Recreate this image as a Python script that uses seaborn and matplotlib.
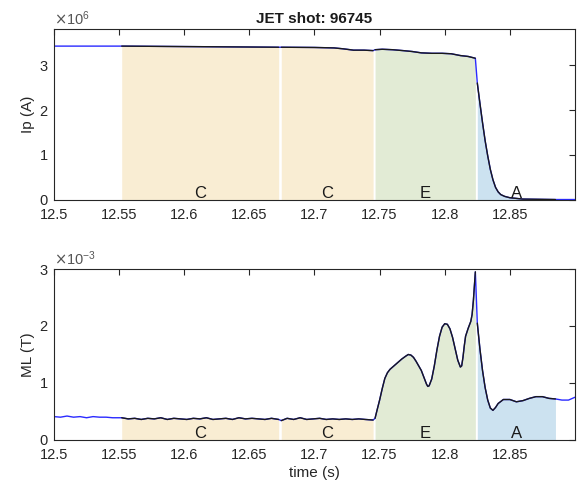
import numpy as np
import matplotlib
matplotlib.use("Agg")
import matplotlib.pyplot as plt
import seaborn as sns
from matplotlib.ticker import ScalarFormatter, FuncFormatter, FixedLocator

sns.set_theme(style="white")
plt.rcParams['font.family'] = ['Liberation Sans', 'DejaVu Sans']

# ---------------- data ----------------
title = "JET shot: 96745"

region_labels = ["C", "C", "E", "A"]
region_start = [12.552, 12.6745, 12.7465, 12.825]
region_end = [12.6725, 12.745, 12.8235, 12.885]
region_colors = {"C": "#f9edd3", "E": "#e2ebd5", "A": "#cce2f0"}

ip_t = [12.500, 12.550, 12.552, 12.600, 12.650, 12.6725, 12.6745, 12.700, 12.715,
        12.722, 12.730, 12.738, 12.745, 12.7465, 12.752, 12.760, 12.768, 12.775,
        12.782, 12.790, 12.798, 12.805, 12.812, 12.818, 12.8235, 12.825, 12.827,
        12.829, 12.831, 12.833, 12.835, 12.837, 12.839, 12.841, 12.843, 12.846,
        12.850, 12.860, 12.885, 12.900]
ip_val = [3.42, 3.42, 3.42, 3.41, 3.40, 3.395, 3.395, 3.39, 3.38,
          3.36, 3.33, 3.33, 3.32, 3.34, 3.35, 3.34, 3.32, 3.30,
          3.27, 3.26, 3.26, 3.25, 3.21, 3.19, 3.15, 2.60, 2.15,
          1.72, 1.32, 0.98, 0.68, 0.45, 0.28, 0.18, 0.12, 0.08,
          0.05, 0.02, 0.01, 0.01]  # x1e6 A

ml_t = [12.500, 12.505, 12.510, 12.515, 12.520, 12.525, 12.530, 12.535, 12.540, 12.545,
        12.550, 12.552, 12.557, 12.562, 12.567, 12.572, 12.577, 12.582, 12.587, 12.592,
        12.597, 12.602, 12.607, 12.612, 12.617, 12.622, 12.627, 12.632, 12.637, 12.642,
        12.647, 12.652, 12.657, 12.662, 12.667, 12.6725, 12.6745, 12.679, 12.684, 12.689,
        12.694, 12.699, 12.704, 12.709, 12.714, 12.719, 12.724, 12.729, 12.734, 12.739,
        12.745, 12.7465, 12.748, 12.750, 12.752, 12.754, 12.756, 12.758, 12.761, 12.764,
        12.767, 12.770, 12.772, 12.774, 12.776, 12.778, 12.780, 12.782, 12.784, 12.786,
        12.787, 12.788, 12.790, 12.792, 12.794, 12.796, 12.798, 12.800, 12.802, 12.804,
        12.806, 12.808, 12.810, 12.812, 12.813, 12.814, 12.815, 12.816, 12.818, 12.820,
        12.821, 12.822, 12.8235, 12.825, 12.827, 12.829, 12.831, 12.833, 12.835, 12.837,
        12.839, 12.841, 12.845, 12.850, 12.855, 12.860, 12.865, 12.870, 12.875, 12.880,
        12.885, 12.890, 12.895, 12.900]
ml_val = [0.41, 0.40, 0.42, 0.40, 0.41, 0.39, 0.41, 0.40, 0.40, 0.39,
          0.39, 0.39, 0.37, 0.38, 0.36, 0.38, 0.37, 0.39, 0.36, 0.38,
          0.37, 0.36, 0.38, 0.37, 0.39, 0.36, 0.37, 0.38, 0.36, 0.39,
          0.37, 0.38, 0.37, 0.36, 0.38, 0.36, 0.34, 0.38, 0.36, 0.39,
          0.36, 0.37, 0.38, 0.36, 0.37, 0.36, 0.37, 0.36, 0.37, 0.36,
          0.35, 0.38, 0.52, 0.70, 0.90, 1.08, 1.18, 1.24, 1.30, 1.36,
          1.42, 1.47, 1.50, 1.49, 1.45, 1.38, 1.30, 1.22, 1.10, 0.98,
          0.94, 0.95, 1.07, 1.30, 1.58, 1.82, 1.98, 2.04, 2.03, 1.95,
          1.80, 1.60, 1.40, 1.28, 1.30, 1.45, 1.65, 1.82, 1.96, 2.08,
          2.20, 2.45, 2.95, 2.05, 1.60, 1.22, 0.92, 0.70, 0.56, 0.52,
          0.57, 0.64, 0.71, 0.71, 0.67, 0.69, 0.73, 0.76, 0.76, 0.73,
          0.72, 0.70, 0.70, 0.75]  # x1e-3 T

xticks = [12.5, 12.55, 12.6, 12.65, 12.7, 12.75, 12.8, 12.85]

# ---------------- plotting ----------------
fig = plt.figure(figsize=(5.78, 4.86), dpi=100)
ax1 = fig.add_axes([0.0934, 0.5885, 0.9014, 0.3518])
ax2 = fig.add_axes([0.0934, 0.0947, 0.9014, 0.3518])

spine_col = "#262626"

def draw(ax, t, y, ymax, scale):
    t = np.asarray(t)
    y = np.asarray(y) * scale
    sns.lineplot(x=t, y=y, ax=ax, color="#2a2aff", lw=1.0, sort=False,
                 estimator=None, zorder=2)
    for lab, s, e in zip(region_labels, region_start, region_end):
        m = (t >= s - 1e-9) & (t <= e + 1e-9)
        ax.fill_between(t[m], 0, y[m], color=region_colors[lab], lw=0, zorder=1)
        ax.plot(t[m], y[m], color="#1a1a1a", lw=1.0, zorder=3)
        ax.text((s + e) / 2, ymax * 0.04, lab, ha="center", va="center",
                fontsize=12, color="#1a1a1a", zorder=4)
    ax.set_xlim(12.5, 12.9)
    ax.set_ylim(0, ymax)
    ax.xaxis.set_major_locator(FixedLocator(xticks))
    ax.xaxis.set_major_formatter(FuncFormatter(lambda v, p: f"{v:g}"))
    fmt = ScalarFormatter(useMathText=True)
    fmt.set_powerlimits((0, 0))
    ax.yaxis.set_major_formatter(fmt)
    ax.tick_params(direction="in", top=True, right=True, length=4, width=0.8,
                   colors=spine_col, labelsize=10.5, labelcolor="#262626")
    ax.tick_params(axis="x", pad=6)
    ax.tick_params(axis="y", pad=4)
    ax.yaxis.get_offset_text().set_fontsize(10.5)
    ax.yaxis.get_offset_text().set_color("#555555")
    for sp in ax.spines.values():
        sp.set_color(spine_col)
        sp.set_linewidth(0.8)
        sp.set_visible(True)
    ax.set_facecolor("white")

draw(ax1, ip_t, ip_val, 3.8e6, 1e6)
ax1.set_yticks([0, 1e6, 2e6, 3e6])
ax1.set_ylabel("Ip (A)", fontsize=11, color="#262626", labelpad=3)
ax1.set_title(title, fontsize=11, fontweight="bold", color="#1a1a1a", pad=4)

draw(ax2, ml_t, ml_val, 3e-3, 1e-3)
ax2.set_yticks([0, 1e-3, 2e-3, 3e-3])
ax2.set_ylabel("ML (T)", fontsize=11, color="#262626", labelpad=3)
ax2.set_xlabel("time (s)", fontsize=11, color="#262626", labelpad=3)

fig.savefig("out.png", dpi=100)
